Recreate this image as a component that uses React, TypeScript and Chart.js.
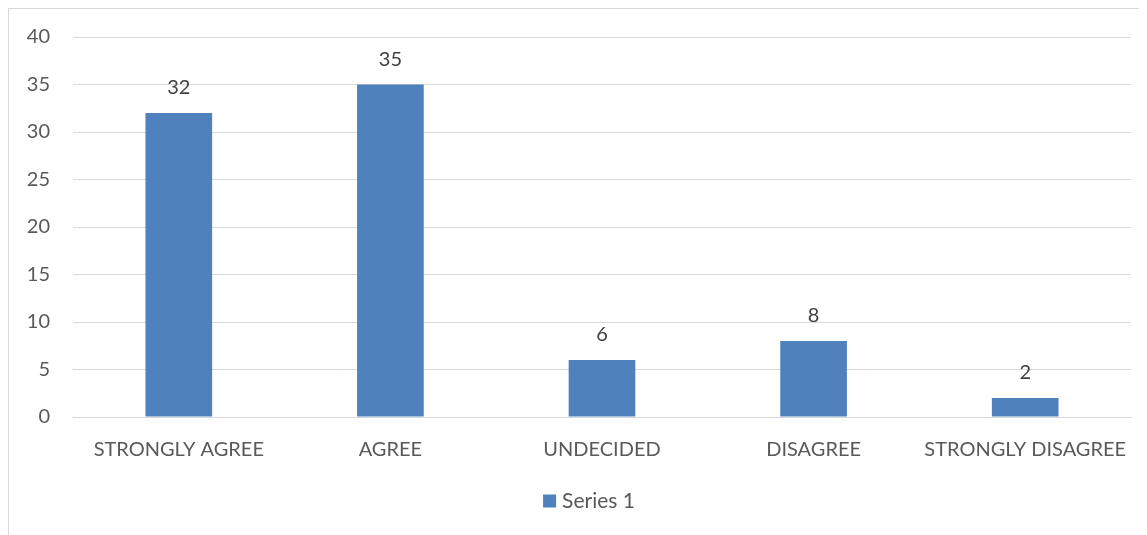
import React, { useEffect, useRef } from "react";
import { Chart, registerables } from "chart.js";

Chart.register(...registerables);

const categories = ["STRONGLY AGREE", "AGREE", "UNDECIDED", "DISAGREE", "STRONGLY DISAGREE"];
const series1 = [32, 35, 6, 8, 2];
const seriesName = "Series 1";
const yMin = 0;
const yMax = 40;
const yStep = 5;

const FONT = "Lato, 'Open Sans', sans-serif";
const BLUE = "#4f81bd";
const TEXT = "#595959";
const SIZE = 20;

const labelPlugin = {
  id: "barLabels",
  afterDatasetsDraw(chart: any) {
    const ctx = chart.ctx;
    const meta = chart.getDatasetMeta(0);
    ctx.save();
    ctx.font = `${SIZE}px ${FONT}`;
    ctx.fillStyle = "#404040";
    ctx.textAlign = "center";
    ctx.textBaseline = "middle";
    meta.data.forEach((el: any, i: number) => {
      ctx.fillText(String(chart.data.datasets[0].data[i]), el.x, el.y - 25);
    });
    ctx.restore();
  },
};

const legendPlugin = {
  id: "customLegend",
  afterDraw(chart: any) {
    const ctx = chart.ctx;
    ctx.save();
    ctx.font = `21px ${FONT}`;
    const tw = ctx.measureText(seriesName).width;
    const box = 13;
    const gap = 6;
    const total = box + gap + tw;
    const cx = chart.width / 2 + 11;
    const x0 = cx - total / 2;
    const cy = 492;
    ctx.fillStyle = BLUE;
    ctx.fillRect(x0, cy - box / 2, box, box);
    ctx.fillStyle = TEXT;
    ctx.textBaseline = "middle";
    ctx.textAlign = "left";
    ctx.fillText(seriesName, x0 + box + gap, cy);
    ctx.restore();
  },
};

export default function App() {
  const ref = useRef<HTMLCanvasElement>(null);
  useEffect(() => {
    const chart = new Chart(ref.current!, {
      type: "bar",
      data: {
        labels: categories,
        datasets: [
          {
            label: seriesName,
            data: series1,
            backgroundColor: BLUE,
            barPercentage: 0.315,
            categoryPercentage: 1,
          },
        ],
      },
      options: {
        animation: false,
        responsive: false,
        maintainAspectRatio: false,
        layout: { padding: { top: 28, right: 16, left: 0, bottom: 0 } },
        plugins: {
          legend: { display: false },
          tooltip: { enabled: false },
        },
        scales: {
          x: {
            grid: { display: false, drawTicks: false },
            border: { display: true, color: "#d9d9d9" },
            ticks: {
              color: TEXT,
              font: { family: FONT, size: SIZE },
              padding: 21,
              maxRotation: 0,
              autoSkip: false,
            },
            afterFit(scale: any) {
              scale.height = 118;
              scale.paddingLeft = 0;
              scale.paddingRight = 0;
            },
          },
          y: {
            min: yMin,
            max: yMax,
            grid: { color: "#d9d9d9", drawTicks: false },
            border: { display: false },
            ticks: {
              stepSize: yStep,
              color: TEXT,
              font: { family: FONT, size: SIZE },
              padding: 23,
            },
            afterFit(scale: any) {
              scale.width = 64;
              scale.paddingTop = 0;
              scale.paddingBottom = 0;
            },
          },
        },
      },
      plugins: [labelPlugin, legendPlugin],
    });
    return () => chart.destroy();
  }, []);
  return (
    <div
      style={{
        width: 1138,
        height: 526,
        borderLeft: "1px solid #d9d9d9",
        borderTop: "1px solid #d9d9d9",
        background: "#fff",
      }}
    >
      <canvas ref={ref} width={1138} height={526} style={{ display: "block" }} />
    </div>
  );
}
